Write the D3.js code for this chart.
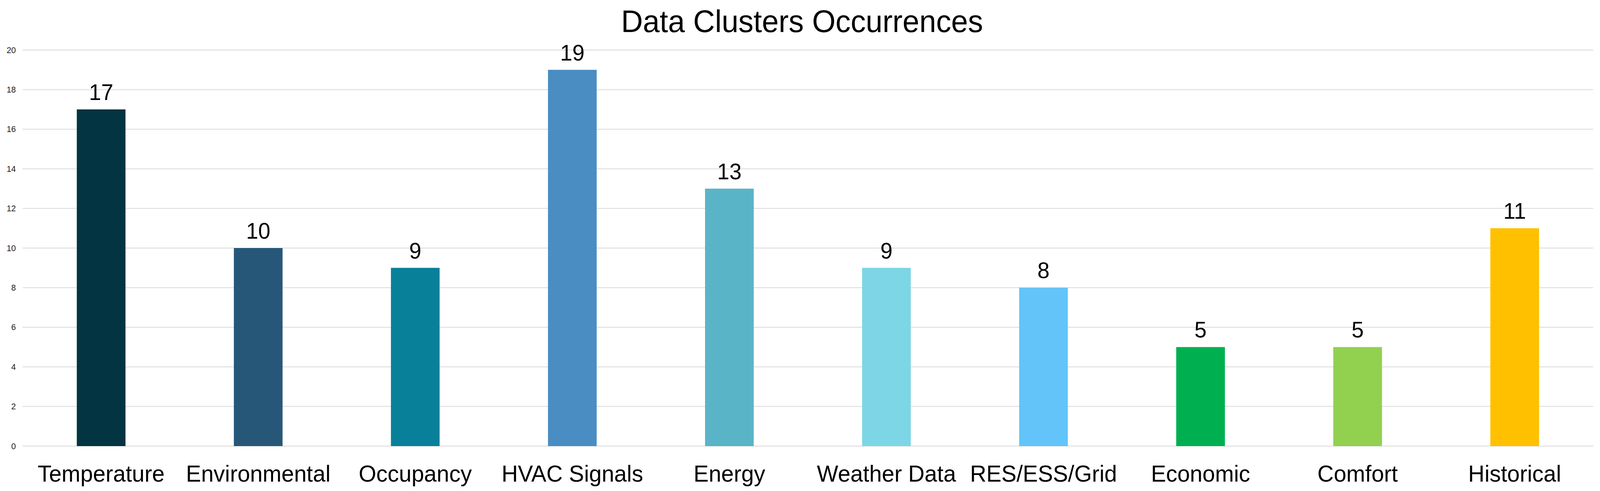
<!DOCTYPE html>
<html>
<head>
<meta charset="utf-8">
<script src="https://cdn.jsdelivr.net/npm/d3@7"></script>
<style>
  html, body { margin: 0; padding: 0; background: #fff; overflow: hidden; width: 100%; height: 100%; }
  svg { display: block; }
  text { font-family: "Liberation Sans", Arial, sans-serif; }
</style>
</head>
<body>
<div class="chart"></div>
<script>
// data
var categories = ["Temperature", "Environmental", "Occupancy", "HVAC Signals", "Energy",
                  "Weather Data", "RES/ESS/Grid", "Economic", "Comfort", "Historical"];
var counts = [17, 10, 9, 19, 13, 9, 8, 5, 5, 11];
var barColors = ["#023441", "#265778", "#09809A", "#4A8DC2", "#5AB4C7",
                 "#7DD6E5", "#63C4F9", "#00B050", "#92D050", "#FFC000"];
var yTicks = [0, 2, 4, 6, 8, 10, 12, 14, 16, 18, 20];
var title = "Data Clusters Occurrences";

var width = 4245, height = 1257;
var plotLeft = 60, plotRight = 4227, plotTop = 128, plotBottom = 1142;

// scale the drawing to whatever the viewport really is
var svg = d3.select(".chart").append("svg")
  .attr("width", window.innerWidth || width)
  .attr("height", window.innerHeight || height)
  .attr("viewBox", "0 0 " + width + " " + height)
  .attr("preserveAspectRatio", "none");

var x = d3.scaleBand().domain(categories).range([plotLeft, plotRight]).paddingInner(0.69).paddingOuter(0.345);
var y = d3.scaleLinear().domain([0, 20]).range([plotBottom, plotTop]);

// gridlines
svg.append("g").selectAll("line")
  .data(yTicks)
  .enter().append("line")
  .attr("x1", plotLeft).attr("x2", plotRight)
  .attr("y1", function(d) { return y(d); })
  .attr("y2", function(d) { return y(d); })
  .attr("stroke", "#d9d9d9").attr("stroke-width", 2);

// y axis labels
var yAxis = svg.append("g")
  .attr("transform", "translate(" + (plotLeft - 18) + ",0)")
  .call(d3.axisLeft(y).tickValues(yTicks).tickSize(0).tickPadding(0));
yAxis.select(".domain").remove();
yAxis.selectAll("text")
  .style("font-family", "'Liberation Sans', Arial, sans-serif")
  .attr("font-size", 22).attr("fill", "#222");

// bars
svg.append("g").selectAll("rect")
  .data(counts)
  .enter().append("rect")
  .attr("x", function(d, i) { return x(categories[i]); })
  .attr("y", function(d) { return y(d); })
  .attr("width", x.bandwidth())
  .attr("height", function(d) { return y(0) - y(d); })
  .attr("fill", function(d, i) { return barColors[i]; });

// value labels
svg.append("g").selectAll("text")
  .data(counts)
  .enter().append("text")
  .attr("x", function(d, i) { return x(categories[i]) + x.bandwidth() / 2; })
  .attr("y", function(d) { return y(d) - 24; })
  .attr("text-anchor", "middle")
  .attr("font-size", 58)
  .attr("fill", "#000")
  .text(function(d) { return d; });

// x axis labels
var xAxis = svg.append("g")
  .attr("transform", "translate(0," + plotBottom + ")")
  .call(d3.axisBottom(x).tickSize(0).tickPadding(0));
xAxis.select(".domain").remove();
xAxis.selectAll("text")
  .style("font-family", "'Liberation Sans', Arial, sans-serif")
  .attr("dy", 0).attr("y", 91)
  .attr("font-size", 60).attr("fill", "#000");

// title
svg.append("text")
  .attr("x", 2128).attr("y", 82)
  .attr("text-anchor", "middle")
  .attr("font-size", 80)
  .attr("fill", "#000")
  .text(title);
</script>
</body>
</html>
